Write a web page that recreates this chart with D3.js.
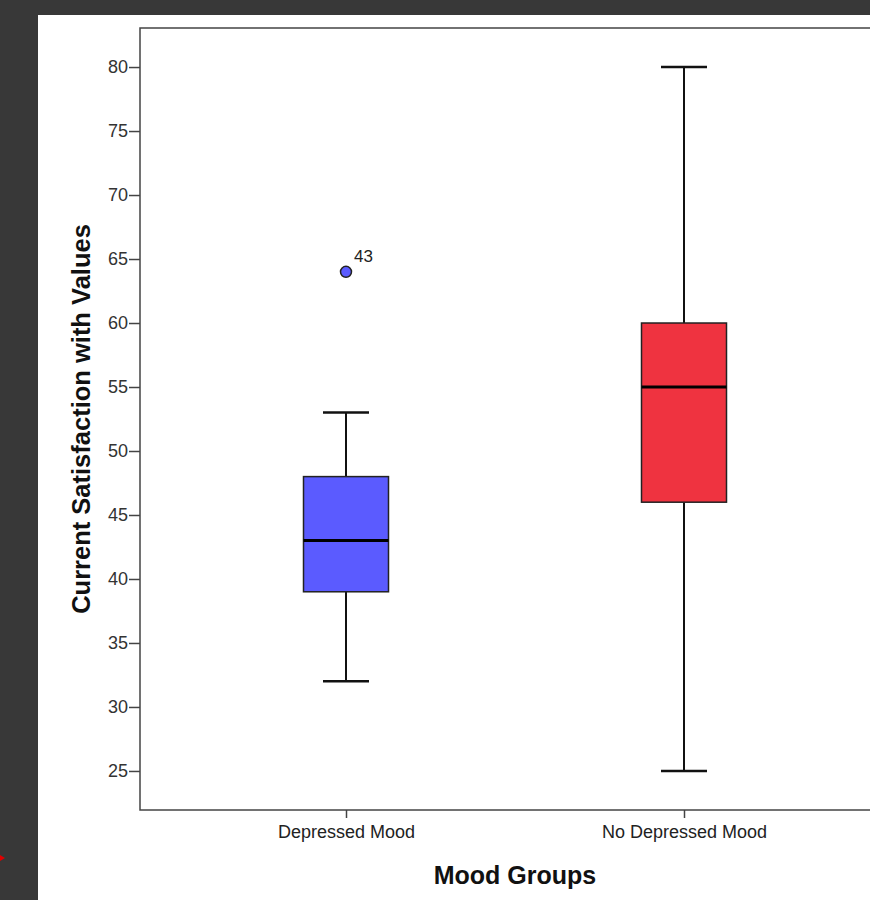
<!DOCTYPE html>
<html><head><meta charset="utf-8">
<script src="https://cdn.jsdelivr.net/npm/d3@7"></script>
<style>html,body{margin:0;padding:0;background:#383838;overflow:hidden}</style>
</head><body>
<script>
const categories = ["Depressed Mood", "No Depressed Mood"];
const mins = [32, 25];
const q1s = [39, 46];
const medians = [43, 55];
const q3s = [48, 60];
const maxs = [53, 80];
const colors = ["#5b5bff", "#ef3340"];
const outlierGroups = ["Depressed Mood"];
const outlierValues = [64];
const outlierLabels = ["43"];
const yTicks = [25, 30, 35, 40, 45, 50, 55, 60, 65, 70, 75, 80];

const W = 870, H = 900;
const svg = d3.select("body").append("svg").attr("width", W).attr("height", H);
svg.append("rect").attr("x", 0).attr("y", 0).attr("width", W).attr("height", H).attr("fill", "#383838");
svg.append("rect").attr("x", 38).attr("y", 15).attr("width", W - 38).attr("height", H - 15).attr("fill", "#ffffff");
svg.append("path").attr("d", "M0,855 L5,858 L0,861 Z").attr("fill", "#e00000");

const pL = 140, pR = 890, pT = 28, pB = 810;
const x = d3.scalePoint().domain(categories).range([346, 684]).padding(0);
const y = d3.scaleLinear().domain([21.95, 83.05]).range([pB, pT]);

const font = "'Liberation Sans', Arial, sans-serif";

svg.append("rect").attr("x", pL).attr("y", pT).attr("width", pR - pL).attr("height", pB - pT)
  .attr("fill", "none").attr("stroke", "#444").attr("stroke-width", 1.5);

const yAxis = svg.append("g").attr("transform", `translate(${pL},0)`)
  .call(d3.axisLeft(y).tickValues(yTicks).tickSize(11).tickPadding(1).tickSizeOuter(0));
yAxis.select(".domain").remove();
yAxis.selectAll("line").attr("stroke", "#444").attr("stroke-width", 1.5);
yAxis.selectAll("text").attr("font-family", font).attr("font-size", 18).attr("fill", "#333");

const xAxis = svg.append("g").attr("transform", `translate(0,${pB})`)
  .call(d3.axisBottom(x).tickSize(8).tickPadding(7).tickSizeOuter(0));
xAxis.select(".domain").remove();
xAxis.selectAll("line").attr("stroke", "#444").attr("stroke-width", 1.5);
xAxis.selectAll("text").attr("font-family", font).attr("font-size", 18).attr("fill", "#222");

svg.append("text").attr("x", (pL + pR) / 2).attr("y", 884).attr("text-anchor", "middle")
  .attr("font-family", font).attr("font-size", 25).attr("font-weight", "bold").attr("fill", "#111")
  .text("Mood Groups");
svg.append("text").attr("transform", `translate(90,${(pT + pB) / 2}) rotate(-90)`).attr("text-anchor", "middle")
  .attr("font-family", font).attr("font-size", 25.5).attr("font-weight", "bold").attr("fill", "#111")
  .text("Current Satisfaction with Values");

const boxW = 85, capW = 46;
categories.forEach((c, i) => {
  const cx = x(c);
  const g = svg.append("g");
  g.append("line").attr("x1", cx).attr("x2", cx).attr("y1", y(maxs[i])).attr("y2", y(q3s[i]))
    .attr("stroke", "#111").attr("stroke-width", 2);
  g.append("line").attr("x1", cx).attr("x2", cx).attr("y1", y(q1s[i])).attr("y2", y(mins[i]))
    .attr("stroke", "#111").attr("stroke-width", 2);
  g.append("line").attr("x1", cx - capW / 2).attr("x2", cx + capW / 2).attr("y1", y(maxs[i])).attr("y2", y(maxs[i]))
    .attr("stroke", "#111").attr("stroke-width", 2.5);
  g.append("line").attr("x1", cx - capW / 2).attr("x2", cx + capW / 2).attr("y1", y(mins[i])).attr("y2", y(mins[i]))
    .attr("stroke", "#111").attr("stroke-width", 2.5);
  g.append("rect").attr("x", cx - boxW / 2).attr("width", boxW).attr("y", y(q3s[i])).attr("height", y(q1s[i]) - y(q3s[i]))
    .attr("fill", colors[i]).attr("stroke", "#222").attr("stroke-width", 1.5);
  g.append("line").attr("x1", cx - boxW / 2).attr("x2", cx + boxW / 2).attr("y1", y(medians[i])).attr("y2", y(medians[i]))
    .attr("stroke", "#000").attr("stroke-width", 3);
});

outlierValues.forEach((v, j) => {
  const i = categories.indexOf(outlierGroups[j]);
  const cx = x(outlierGroups[j]);
  svg.append("circle").attr("cx", cx).attr("cy", y(v)).attr("r", 5.5)
    .attr("fill", colors[i]).attr("stroke", "#222").attr("stroke-width", 1.5);
  svg.append("text").attr("x", cx + 8).attr("y", y(v) - 10)
    .attr("font-family", font).attr("font-size", 17).attr("fill", "#222").text(outlierLabels[j]);
});
</script>
</body></html>
